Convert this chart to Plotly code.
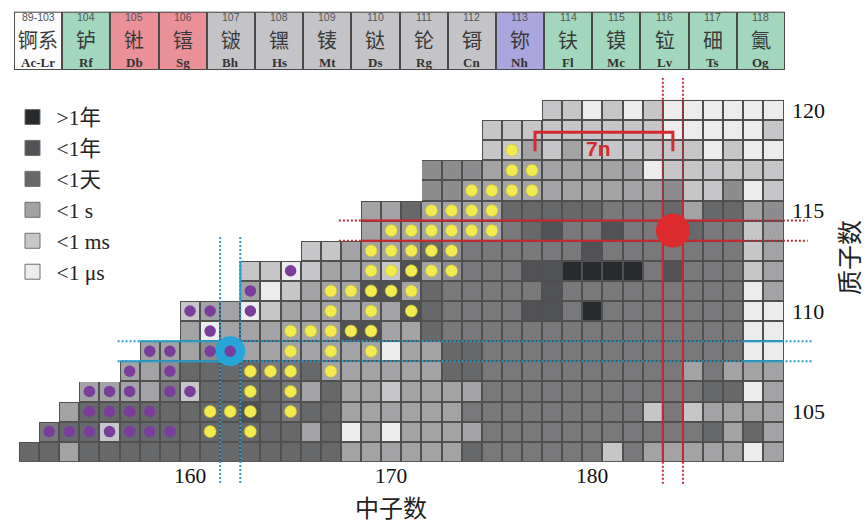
import plotly.graph_objects as go

# ------------------------------------------------------------------ data
neutron_numbers = list(range(152, 190))          # N = 152 ... 189
proton_numbers = list(range(120, 102, -1))       # Z = 120 ... 103 (top row first)

# first neutron number present in each proton row (same order as proton_numbers)
row_first_N = [178, 175, 175, 172, 172, 169, 169, 166, 163, 163,
               160, 160, 158, 157, 155, 154, 153, 152]

# half-life class of each cell, from row_first_N up to N = 189
# 0 = longest lived (darkest) ... 7 = shortest lived (lightest)
halflife_rows = [
    "667676777777",                                                      # Z=120
    "666666666" + "77777" + "6",                                         # 119
    "6656566666" + "6" + "7677",                                         # 118
    "444" + "55555555" + "7" + "666666",                                 # 117
    "44" + "5555555555" + "4" + "66" + "4" + "7" + "6",                  # 116
    "552" + "5555" + "22222" + "333" + "2" + "5" + "22" + "5" + "4",      # 115
    "5555555" + "3" + "2" + "1" + "33" + "1" + "333" + "2" + "33" + "6" + "5",  # 114
    "665554" + "2" + "4" + "333333" + "1" + "3333333" + "6" + "5",       # 113
    "6676555" + "6" + "1" + "5" + "4" + "333" + "11" + "0000" + "3" + "1" + "333" + "6" + "5",  # 112
    "576555" + "11" + "5" + "2" + "33333" + "1" + "333333333" + "7" + "5",  # 111
    "6557655555" + "5" + "1" + "2" + "3333" + "11" + "3" + "0" + "3333333" + "77",  # 110
    "57555555" + "11" + "55" + "2" + "333333333333333" + "77",           # 109
    "555455555555" + "7" + "55" + "22" + "3333333333333" + "77",         # 108
    "554" + "2222" + "33" + "2" + "555555" + "22" + "3333333333" + "5" + "3" + "555",  # 107
    "5555" + "3" + "6" + "2222" + "3" + "5" + "2" + "55" + "6" + "5555" + "3333333333" + "3" + "22" + "7" + "5",  # 106
    "5" + "22222222" + "1" + "2" + "3" + "22" + "555555" + "333333333" + "6" + "3" + "6" + "5555",  # 105
    "3" + "22" + "6" + "222222222" + "5" + "2" + "7" + "5" + "7" + "5555" + "33333333333" + "2" + "5" + "2" + "5",  # 104
    "22" + "5" + "2222222222222" + "555555" + "2" + "333333" + "6" + "3" + "55555" + "7" + "5",  # 103
]

level_colors = ["#282b2d", "#505255", "#67686a", "#79797b",
                "#8d8d8f", "#a3a3a5", "#c6c6c8", "#ececec"]

legend_labels = ["&gt;1年", "&lt;1年", "&lt;1天", "&lt;1 s", "&lt;1 ms", "&lt;1 μs"]
legend_levels = [0, 1, 2, 5, 6, 7]

# purple and yellow marked nuclides: {Z: [N, ...]}
purple_dots = {112: [165], 111: [163], 110: [160, 161, 163], 109: [161],
               108: [158, 159, 161, 162], 107: [157, 159],
               106: [155, 156, 157, 159, 160], 105: [155, 156, 157, 158],
               104: [153, 154, 155, 156, 157, 158, 159]}
yellow_dots = {118: [176], 117: [176, 177], 116: [174, 175, 176, 177],
               115: [172, 173, 174, 175], 114: [170, 171, 172, 173, 174, 175],
               113: [169, 170, 171, 172, 173], 112: [169, 170, 171, 172, 173],
               111: [167, 168, 169, 170, 171], 110: [167, 169, 171],
               109: [165, 166, 167, 168, 169], 108: [165, 167, 169],
               107: [163, 164, 165, 167], 106: [163, 165],
               105: [161, 162, 163, 165], 104: [161, 163]}

hs_N, hs_Z = 162, 108          # blue marked nucleus
she_N, she_Z = 184, 114        # red marked nucleus
gap_from_N, gap_to_N = 177, 184
gap_label = "7n"

bottom_ticks = [160, 170, 180]
right_ticks = [105, 110, 115, 120]

strip_numbers = ["89-103", "104", "105", "106", "107", "108", "109", "110",
                 "111", "112", "113", "114", "115", "116", "117", "118"]
strip_names = ["锕系", "𬬻", "𬭊", "𬭳", "𬭛", "𬭶", "鿏", "𫟼",
               "𬬭", "鿔", "鿭", "𫓧", "镆", "𫟷", "鿬", "鿫"]
strip_symbols = ["Ac-Lr", "Rf", "Db", "Sg", "Bh", "Hs", "Mt", "Ds",
                 "Rg", "Cn", "Nh", "Fl", "Mc", "Lv", "Ts", "Og"]
strip_group = [0, 1, 2, 2, 3, 3, 3, 3, 3, 3, 4, 1, 1, 1, 1, 1]
strip_colors = ["#fcfcfc", "#a3d7bd", "#ea9198", "#c4c4c8", "#aaa5dc"]

# ------------------------------------------------------------------ geometry
W, H = 868, 529
CELL_W, CELL_H = 20.12, 20.1
X_RANGE = [151.4, 191.0]
Y_RANGE = [101.3, 121.6]


def px_x(n):
    return 190.0 + (n - 160) * CELL_W


def px_y(z):
    return 110.0 + (120 - z) * CELL_H


# ------------------------------------------------------------------ grids
z_rows = []
bg_rows = []
for z_val, start, s in zip(proton_numbers, row_first_N, halflife_rows):
    assert len(s) == 190 - start, (z_val, len(s))
    row = [None] * len(neutron_numbers)
    for k, ch in enumerate(s):
        row[start - neutron_numbers[0] + k] = int(ch)
    z_rows.append(row)
    bg_rows.append([0 if v is not None else None for v in row])

n_lv = len(level_colors)
level_cs = []
for k, c in enumerate(level_colors):
    level_cs += [[k / n_lv, c], [(k + 1) / n_lv, c]]

fig = go.Figure()

# dark backing (grid lines)
fig.add_trace(go.Heatmap(x=neutron_numbers, y=proton_numbers, z=bg_rows,
                         colorscale=[[0, "#505050"], [1, "#505050"]],
                         showscale=False, hoverinfo="skip"))
fig.add_trace(go.Heatmap(x=neutron_numbers, y=proton_numbers, z=z_rows,
                         colorscale=level_cs, zmin=-0.5, zmax=n_lv - 0.5,
                         xgap=2, ygap=2, showscale=False, hoverinfo="skip"))

# ------------------------------------------------------------------ lines
CYAN = "#2b9cc8"
RED = "#c42a30"
DOT = "2px,2px"


def seg(x, y, color, dash, width=2):
    fig.add_trace(go.Scatter(x=x, y=y, mode="lines", showlegend=False,
                             hoverinfo="skip",
                             line=dict(color=color, width=width, dash=dash)))


for dn in (-0.5, 0.5):
    seg([hs_N + dn] * 2, [113.68, 101.34], CYAN, DOT)
seg([hs_N + 0.5] * 2, [112.5, 110.5], CYAN, "solid")
for dz in (-0.5, 0.5):
    seg([156.4, 190.9], [hs_Z + dz] * 2, CYAN, DOT)
    seg([187.5, 189.5], [hs_Z + dz] * 2, CYAN, "solid")
seg([157.5, 161.5], [hs_Z + 0.5] * 2, CYAN, "solid")
seg([156.5, 161.5], [hs_Z - 0.5] * 2, CYAN, "solid")

for dn in (-0.5, 0.5):
    seg([she_N + dn] * 2, [121.6, 101.3], RED, DOT)
    seg([she_N + dn] * 2, [115.5, 102.5], RED, "solid")
for dz in (-0.5, 0.5):
    seg([167.4, 190.7], [she_Z + dz] * 2, RED, DOT)
    seg([168.5, 187.5], [she_Z + dz] * 2, RED, "solid")

# ------------------------------------------------------------------ markers
fig.add_trace(go.Scatter(x=[hs_N], y=[hs_Z], mode="markers", showlegend=False,
                         hoverinfo="skip",
                         marker=dict(size=30, color="#27a4d8", line=dict(width=0))))


def flatten(d):
    xs, ys = [], []
    for zv, ns in d.items():
        for n in ns:
            xs.append(n)
            ys.append(zv)
    return xs, ys


yx, yy = flatten(yellow_dots)
fig.add_trace(go.Scatter(x=yx, y=yy, mode="markers", showlegend=False,
                         hoverinfo="skip",
                         marker=dict(size=12, color="#f3ea4d",
                                     line=dict(width=0.6, color="#c9bf35"))))
px_, py_ = flatten(purple_dots)
fig.add_trace(go.Scatter(x=px_, y=py_, mode="markers", showlegend=False,
                         hoverinfo="skip",
                         marker=dict(size=11.5, color="#7a3d9c", line=dict(width=0))))
fig.add_trace(go.Scatter(x=[she_N], y=[she_Z], mode="markers", showlegend=False,
                         hoverinfo="skip",
                         marker=dict(size=34, color="#dc2a2e", line=dict(width=0))))

# 7n bracket
fig.add_trace(go.Scatter(x=[gap_from_N + 0.15, gap_from_N + 0.15, gap_to_N, gap_to_N],
                         y=[117.95, 118.89, 118.89, 117.95], mode="lines",
                         showlegend=False, hoverinfo="skip",
                         line=dict(color="#d42a2f", width=3)))

# legend entries
for lab, lv in zip(legend_labels, legend_levels):
    fig.add_trace(go.Scatter(x=[None], y=[None], mode="markers", name=lab,
                             marker=dict(symbol="square", size=15,
                                         color=level_colors[lv],
                                         line=dict(color="#6f6f6f", width=1))))

# ------------------------------------------------------------------ top strip
fig.add_trace(go.Heatmap(x=list(range(len(strip_group))), y=[0], z=[strip_group],
                         colorscale=[c for k, col in enumerate(strip_colors)
                                     for c in ([k / 5, col], [(k + 1) / 5, col])],
                         zmin=-0.5, zmax=4.5, xgap=2, showscale=False,
                         hoverinfo="skip", xaxis="x2", yaxis="y2"))

annotations = []
for i in range(len(strip_numbers)):
    annotations.append(dict(x=i, y=1 - 17 / H, xref="x2", yref="paper",
                            text=strip_numbers[i], showarrow=False,
                            xanchor="center", yanchor="middle",
                            font=dict(family="Liberation Sans", size=10.5, color="#555")))
    annotations.append(dict(x=i, y=1 - 39 / H, xref="x2", yref="paper",
                            text=strip_names[i], showarrow=False,
                            xanchor="center", yanchor="middle",
                            font=dict(family="Noto Sans CJK SC", size=20, color="#3a3a3a")))
    annotations.append(dict(x=i, y=1 - 62 / H, xref="x2", yref="paper",
                            text="<b>" + strip_symbols[i] + "</b>", showarrow=False,
                            xanchor="center", yanchor="middle",
                            font=dict(family="Liberation Serif", size=13, color="#333")))

# tick labels
for t in bottom_ticks:
    annotations.append(dict(x=t, y=101.79, xref="x", yref="y", text=str(t),
                            showarrow=False, xanchor="center", yanchor="middle",
                            font=dict(family="Liberation Serif", size=21.5, color="#111")))
for t in right_ticks:
    annotations.append(dict(x=189.82, y=t, xref="x", yref="y", text=str(t),
                            showarrow=False, xanchor="left", yanchor="middle",
                            font=dict(family="Liberation Serif", size=22, color="#111")))

annotations.append(dict(x=(gap_from_N + gap_to_N) / 2 - 0.2, y=118.06, xref="x", yref="y",
                        text="<b>" + gap_label + "</b>", showarrow=False,
                        xanchor="center", yanchor="middle",
                        font=dict(family="Liberation Sans", size=21, color="#d42a2f")))
annotations.append(dict(x=391 / W, y=1 - 506 / H, xref="paper", yref="paper",
                        text="中子数", showarrow=False, xanchor="center", yanchor="middle",
                        font=dict(family="Noto Sans CJK SC", size=24, color="#222")))
annotations.append(dict(x=848 / W, y=1 - 258 / H, xref="paper", yref="paper",
                        text="质子数", showarrow=False, xanchor="center", yanchor="middle",
                        textangle=-90,
                        font=dict(family="Noto Sans CJK SC", size=25, color="#222")))

shapes = [
    dict(type="rect", xref="x2", yref="y2", x0=-0.5, x1=15.5, y0=-0.5, y1=0.5,
         fillcolor="#4a4a4a", line=dict(width=0), layer="below"),
    dict(type="rect", xref="x2", yref="y2", x0=-0.5, x1=15.5, y0=-0.5, y1=0.5,
         fillcolor="rgba(0,0,0,0)", line=dict(width=2, color="#4a4a4a"), layer="above"),
]

hidden = dict(showgrid=False, zeroline=False, showticklabels=False, ticks="",
              showline=False, fixedrange=True)

fig.update_layout(
    width=W, height=H,
    margin=dict(l=0, r=0, t=0, b=0),
    paper_bgcolor="white", plot_bgcolor="rgba(0,0,0,0)",
    hovermode=False,
    xaxis=dict(domain=[px_x(X_RANGE[0]) / W, px_x(X_RANGE[1]) / W],
               range=X_RANGE, autorange=False, anchor="y", **hidden),
    yaxis=dict(domain=[1 - px_y(Y_RANGE[0]) / H, 1 - px_y(Y_RANGE[1]) / H],
               range=Y_RANGE, autorange=False, anchor="x", **hidden),
    xaxis2=dict(domain=[14 / W, 785 / W], range=[-0.5, 15.5], autorange=False,
                anchor="y2", **hidden),
    yaxis2=dict(domain=[1 - 70 / H, 1 - 11.7 / H], range=[-0.5, 0.5], autorange=False,
                anchor="x2", **hidden),
    legend=dict(x=8.5 / W, y=1 - 96.5 / H, xanchor="left", yanchor="top",
                bgcolor="rgba(0,0,0,0)", itemwidth=38, tracegroupgap=0,
                font=dict(family="Liberation Serif, Noto Sans CJK SC", size=21.5, color="#222")),
    annotations=annotations,
    shapes=shapes,
)

fig.write_html("out.html", include_plotlyjs=True,
               config={"displayModeBar": False},
               post_script="document.body.style.margin='0';document.body.style.overflow='hidden';")
